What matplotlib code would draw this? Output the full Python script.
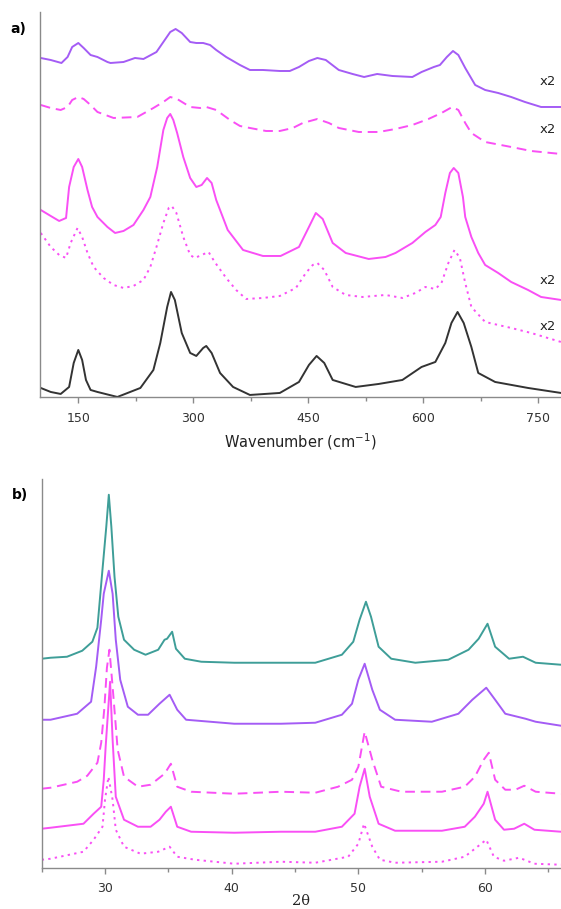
import numpy as np
import matplotlib
matplotlib.use("Agg")
import matplotlib.pyplot as plt
from matplotlib.ticker import MultipleLocator

# ---- panel a: Raman (wavenumber, offset intensity) ----
raman_top = [(101,339),(114,337),(128,334),(136,340),(142,350),(150,354),(157,349),(166,342),(175,340),
             (188,335),(192,334),(209,335),(224,339),(235,338),(252,345),(261,355),(270,365),(277,368),
             (285,364),(296,355),(304,354),(313,354),(322,352),(330,347),(343,340),(361,332),(374,327),
             (391,327),(413,326),(426,326),(438,330),(451,336),(462,339),(473,337),(490,327),(508,323),
             (523,320),(540,323),(560,321),(586,320),(598,325),(614,330),(622,332),(631,340),(639,346),
             (646,342),(655,329),(668,312),(681,307),(698,304),(715,300),(733,295),(754,290),(780,290)]
raman_dash = [(101,292),(114,289),(127,287),(136,290),(142,297),(150,300),(157,298),(166,292),(175,285),
              (196,279),(227,280),(248,289),(261,295),(270,300),(279,298),(296,290),(309,289),(317,290),
              (330,287),(348,277),(361,271),(374,269),(395,266),(413,266),(430,269),(443,274),(462,278),
              (477,274),(490,269),(516,265),(542,265),(564,268),(586,272),(607,278),(624,284),(638,290),
              (646,287),(655,274),(663,264),(681,255),(715,250),(741,246),(780,243)]
raman_solid = [(101,187),(114,181),(125,176),(134,179),(138,210),(144,230),(150,238),(155,230),(162,207),
               (168,190),(175,180),(188,170),(198,164),(209,166),(222,172),(235,187),(244,200),(253,230),
               (261,267),(266,279),(270,283),(274,277),(279,264),(287,240),(296,219),(304,210),(311,212),
               (318,219),(324,214),(330,197),(345,167),(365,147),(391,141),(414,141),(438,150),(451,170),
               (460,184),(469,178),(482,154),(499,144),(529,138),(551,140),(564,144),(586,154),(603,165),
               (616,172),(623,180),(629,204),(635,224),(640,229),(646,224),(652,200),(655,180),(663,160),
               (672,144),(681,132),(698,124),(715,115),(737,107),(754,100),(780,97)]
raman_dot = [(101,164),(114,150),(125,142),(134,139),(140,154),(149,169),(155,160),(162,144),(170,130),
             (183,119),(196,112),(209,109),(222,111),(235,117),(244,130),(252,150),(261,174),(268,189),
             (272,191),(278,184),(287,160),(296,142),(302,139),(311,142),(320,145),(328,135),(343,119),
             (356,107),(369,98),(391,99),(413,101),(434,109),(447,124),(456,132),(462,134),(471,127),
             (482,110),(499,102),(521,100),(551,102),(573,99),(590,104),(603,110),(616,108),(624,114),
             (633,134),(641,147),(648,139),(655,114),(663,90),(681,75),(715,69),(741,64),(780,55)]
raman_ref = [(101,9),(114,5),(127,3),(138,10),(144,34),(150,47),(155,37),(160,17),(166,7),(175,5),(201,0),
             (231,9),(248,27),(257,54),(266,90),(271,105),(276,97),(285,64),(296,44),(304,41),(313,49),
             (317,51),(324,44),(335,24),(352,10),(374,2),(413,4),(438,15),(451,32),(461,41),(471,34),
             (482,17),(512,10),(542,13),(573,17),(598,30),(616,35),(629,54),(637,74),(645,85),(653,74),
             (663,50),(672,24),(694,15),(737,9),(780,4)]
raman_labels = [("x2", 315), ("x2", 267), ("x2", 116), ("x2", 70)]

# ---- panel b: XRD (2theta, offset intensity) ----
xrd_teal = [(25.0,209),(25.7,210),(27.0,211),(28.2,217),(29.0,226),(29.4,240),(29.75,291),(30.1,341),
            (30.3,373),(30.5,341),(30.75,291),(31.05,251),(31.5,228),(32.3,218),(33.2,213),(34.2,218),
            (34.7,228),(34.9,229),(35.3,236),(35.6,219),(36.3,209),(37.6,206),(40.2,205),(42.9,205),
            (46.6,205),(48.7,213),(49.6,226),(50.1,248),(50.6,266),(51.0,251),(51.6,221),(52.6,209),
            (54.5,205),(57.1,208),(58.7,218),(59.5,229),(60.2,244),(60.8,221),(61.9,209),(63.0,211),
            (64.0,205),(66.0,203)]
xrd_violet = [(25.0,148),(25.7,148),(27.8,154),(28.9,166),(29.3,201),(29.7,248),(29.9,274),(30.3,297),
              (30.6,274),(30.85,228),(31.2,188),(31.8,161),(32.6,153),(33.4,153),(34.3,164),(35.1,173),
              (35.7,158),(36.4,148),(40.2,144),(43.9,144),(46.6,145),(48.7,153),(49.5,164),(50.0,188),
              (50.5,204),(51.1,178),(51.7,158),(52.9,148),(55.8,146),(57.9,154),(59.0,168),(60.1,180),
              (60.8,168),(61.6,154),(63.2,149),(64.0,146),(66.0,142)]
xrd_dash = [(25.0,79),(25.7,80),(27.8,86),(28.6,92),(29.4,105),(29.7,125),(29.95,160),(30.15,200),
            (30.35,218),(30.6,181),(31.0,118),(31.5,91),(32.6,81),(33.6,83),(34.7,94),(35.2,104),
            (35.7,81),(36.8,76),(40.2,74),(43.9,76),(46.6,75),(48.4,81),(49.5,88),(50.0,101),(50.5,136),
            (51.1,108),(51.8,81),(53.4,76),(56.6,76),(58.4,81),(59.2,91),(59.9,108),(60.3,115),(60.8,88),
            (61.6,78),(62.4,78),(63.1,82),(64.0,76),(66.0,74)]
xrd_solid = [(25.0,39),(25.7,40),(28.3,44),(29.1,54),(29.7,61),(29.9,88),(30.05,121),(30.4,186),(30.6,128),
             (30.85,71),(31.5,48),(32.6,41),(33.6,41),(34.3,48),(34.8,56),(35.2,61),(35.7,41),(36.8,36),
             (40.2,35),(43.9,36),(46.6,36),(48.7,41),(49.7,54),(50.1,81),(50.5,99),(50.9,71),(51.6,44),
             (52.9,37),(56.6,37),(58.4,41),(59.2,51),(59.9,64),(60.2,76),(60.8,48),(61.5,38),(62.3,39),
             (63.1,44),(63.9,38),(66.0,36)]
xrd_dot = [(25.0,8),(25.7,9),(28.3,16),(29.1,28),(29.8,41),(30.0,68),(30.27,91),(30.6,68),(30.85,38),
           (31.5,21),(32.8,14),(34.2,16),(35.1,21),(35.7,11),(37.1,8),(40.2,4),(43.9,6),(46.6,5),(47.9,8),
           (49.2,11),(50.0,24),(50.45,44),(51.1,21),(51.7,8),(52.9,5),(56.6,6),(58.4,11),(59.2,19),
           (60.1,28),(60.7,11),(61.5,7),(62.7,10),(63.9,4),(66.0,3)]

VIOLET = "#a45cf5"
MAGENTA = "#f94ff5"
TEAL = "#3e9e98"
DARK = "#333333"
SPINE = "#8a8a8a"

plt.rcParams['font.family'] = ['DejaVu Sans']

fig = plt.figure(figsize=(5.61, 9.09), dpi=100)
ax_a = fig.add_axes([0.0713, 0.5633, 0.9287, 0.4235])
ax_b = fig.add_axes([0.0743, 0.0454, 0.9257, 0.4276])


def draw(ax, data, color, ls):
    arr = np.array(data, dtype=float)
    line, = ax.plot(arr[:, 0], arr[:, 1], color=color, lw=1.4,
                    solid_joinstyle='round', dash_joinstyle='round')
    if ls == 'dash':
        line.set_dashes([5, 3])
    elif ls == 'dot':
        line.set_dashes([1.2, 2.2])
    return line


def style(ax):
    for s in ('top', 'right'):
        ax.spines[s].set_visible(False)
    for s in ('left', 'bottom'):
        ax.spines[s].set_color(SPINE)
        ax.spines[s].set_linewidth(1.0)
    ax.set_yticks([])
    ax.tick_params(axis='x', which='major', length=4.5, width=1, color=SPINE,
                   labelsize=9, labelcolor="#333333", pad=6)
    ax.tick_params(axis='x', which='minor', length=3, width=1, color=SPINE)


# panel a
draw(ax_a, raman_top, VIOLET, 'solid')
draw(ax_a, raman_dash, MAGENTA, 'dash')
draw(ax_a, raman_solid, MAGENTA, 'solid')
draw(ax_a, raman_dot, MAGENTA, 'dot')
draw(ax_a, raman_ref, DARK, 'solid')
ax_a.set_xlim(100, 780)
ax_a.set_ylim(0, 385)
ax_a.xaxis.set_major_locator(MultipleLocator(150))
ax_a.xaxis.set_minor_locator(MultipleLocator(75))
style(ax_a)
ax_a.set_xlabel("Wavenumber (cm$^{-1}$)", fontsize=10.5, color="#222222", labelpad=5)
for txt, yv in raman_labels:
    ax_a.text(763, yv, txt, fontsize=9.5, color="#222222", ha='center', va='center')
fig.text(0.018, 0.968, "a)", fontsize=10, fontweight='bold', ha='left', va='center')

# panel b
draw(ax_b, xrd_teal, TEAL, 'solid')
draw(ax_b, xrd_violet, VIOLET, 'solid')
draw(ax_b, xrd_dash, MAGENTA, 'dash')
draw(ax_b, xrd_solid, MAGENTA, 'solid')
draw(ax_b, xrd_dot, MAGENTA, 'dot')
ax_b.set_xlim(25, 66)
ax_b.set_ylim(0, 388.7)
ax_b.xaxis.set_major_locator(MultipleLocator(10))
ax_b.xaxis.set_minor_locator(MultipleLocator(5))
style(ax_b)
fig.text(0.537, 0.0085, "2θ", fontsize=10.5, family='DejaVu Serif', color="#222222",
         ha='center', va='center')
fig.text(0.021, 0.455, "b)", fontsize=10, fontweight='bold', ha='left', va='center')

fig.savefig("out.png", dpi=100)
